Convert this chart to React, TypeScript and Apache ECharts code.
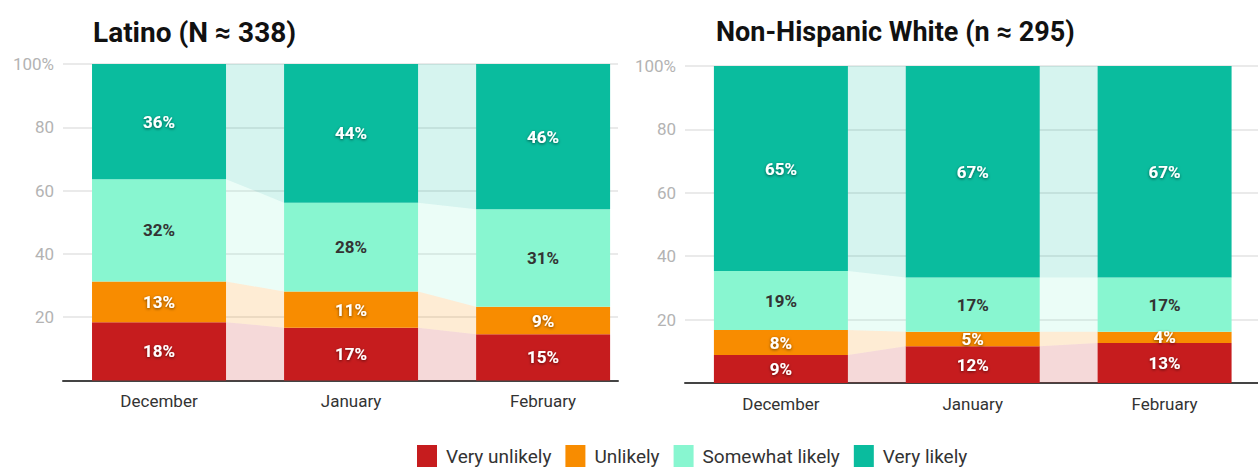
import React, { useEffect, useRef } from "react";
import * as echarts from "echarts";

const months = ["December", "January", "February"];
const segmentNames = ["Very unlikely", "Unlikely", "Somewhat likely", "Very likely"];
const segmentColors = ["#c61c1e", "#f88c00", "#88f6d0", "#0abc9e"];

const latinoVeryUnlikely = [18.4, 16.7, 14.6];
const latinoUnlikely = [12.9, 11.4, 8.7];
const latinoSomewhat = [32.3, 28.1, 30.8];
const latinoVeryLikely = [36.4, 43.8, 45.9];

const whiteVeryUnlikely = [8.8, 11.6, 12.6];
const whiteUnlikely = [7.9, 4.6, 3.6];
const whiteSomewhat = [18.6, 17.1, 17.1];
const whiteVeryLikely = [64.7, 66.7, 66.7];

const yTicks = [0, 20, 40, 60, 80, 100];
const titles = ["Latino (N \u2248 338)", "Non-Hispanic White (n \u2248 295)"];

const FONT = "Roboto, 'Noto Sans', sans-serif";
const BAR_W = 134;

const panels = [
  [latinoVeryUnlikely, latinoUnlikely, latinoSomewhat, latinoVeryLikely],
  [whiteVeryUnlikely, whiteUnlikely, whiteSomewhat, whiteVeryLikely],
];

export default function App() {
  const ref = useRef<HTMLDivElement>(null);
  useEffect(() => {
    if (!ref.current) return;
    const chart = echarts.init(ref.current, null, { renderer: "svg" });
    const series: any[] = [];
    panels.forEach((panel, pi) => {
      const cum = (m: number, upto: number) => {
        let t = 0;
        for (let k = 0; k < upto; k++) t += panel[k][m];
        return t;
      };
      // connecting bands
      const bandData: number[][] = [];
      for (let i = 0; i < months.length - 1; i++) {
        for (let s = 0; s < panel.length; s++) bandData.push([i, s]);
      }
      series.push({
        type: "custom",
        name: "bands" + pi,
        xAxisIndex: pi,
        yAxisIndex: pi,
        z: 1,
        silent: true,
        data: bandData,
        renderItem: (params: any, api: any) => {
          const i = api.value(0);
          const s = api.value(1);
          const b0 = api.coord([i, cum(i, s)]);
          const t0 = api.coord([i, cum(i, s + 1)]);
          const b1 = api.coord([i + 1, cum(i + 1, s)]);
          const t1 = api.coord([i + 1, cum(i + 1, s + 1)]);
          const h = BAR_W / 2;
          return {
            type: "polygon",
            shape: {
              points: [
                [b0[0] + h, b0[1]],
                [t0[0] + h, t0[1]],
                [t1[0] - h, t1[1]],
                [b1[0] - h, b1[1]],
              ],
            },
            style: { fill: segmentColors[s], opacity: 0.17 },
          };
        },
      });
      panel.forEach((vals, s) => {
        const dark = s === 2;
        series.push({
          type: "custom",
          name: segmentNames[s],
          xAxisIndex: pi,
          yAxisIndex: pi,
          z: 2,
          itemStyle: { color: segmentColors[s] },
          data: vals.map((v, i) => [i, v]),
          renderItem: (params: any, api: any) => {
            const i = api.value(0);
            const v = api.value(1);
            const base = cum(i, s);
            const p0 = api.coord([i, base]);
            const p1 = api.coord([i, base + v]);
            const h = BAR_W / 2;
            return {
              type: "group",
              children: [
                {
                  type: "rect",
                  shape: { x: p0[0] - h, y: p1[1], width: BAR_W, height: p0[1] - p1[1] },
                  style: { fill: segmentColors[s] },
                },
                {
                  type: "text",
                  z2: 10,
                  style: {
                    text: Math.round(v) + "%",
                    x: p0[0],
                    y: (p0[1] + p1[1]) / 2,
                    align: "center",
                    verticalAlign: "middle",
                    font: "bold 17px " + FONT,
                    fill: dark ? "#333333" : "#ffffff",
                    textShadowColor: dark ? "rgba(0,0,0,0)" : "rgba(0,0,0,0.55)",
                    textShadowBlur: dark ? 0 : 3,
                    textShadowOffsetX: 0,
                    textShadowOffsetY: 1,
                  },
                },
              ],
            };
          },
        });
      });
    });

    const xAxisBase = (max: number) => ({
      type: "value",
      min: -0.5,
      max,
      interval: 0.5,
      splitLine: { show: false },
      axisTick: { show: false },
      axisLine: { show: true, lineStyle: { color: "#444", width: 2 } },
      axisLabel: {
        show: true,
        margin: 12,
        fontFamily: FONT,
        fontSize: 17,
        color: "#333",
        showMinLabel: false,
        showMaxLabel: false,
        formatter: (v: number) => (Number.isInteger(v) && v >= 0 && v < months.length ? months[v] : ""),
      },
    });
    const yAxisBase = () => ({
      type: "value",
      min: 0,
      max: 100,
      interval: 20,
      axisLine: { show: false },
      axisTick: { show: false },
      splitLine: { show: true, lineStyle: { color: "#e3e3e3", width: 1.5 } },
      axisLabel: {
        margin: 9,
        fontFamily: FONT,
        fontSize: 17,
        color: "#b3b3b3",
        formatter: (v: number) => (v === 0 ? "" : v === yTicks[yTicks.length - 1] ? v + "%" : String(v)),
      },
    });

    const titleStyle = { fontFamily: FONT, fontSize: 27, fontWeight: "bold", color: "#111" };
    chart.setOption({
      animation: false,
      backgroundColor: "#ffffff",
      title: [
        { text: titles[0], left: 93, top: 18, padding: 0, textStyle: { ...titleStyle, fontSize: 28 } },
        { text: titles[1], left: 716, top: 18, padding: 0, textStyle: titleStyle },
      ],
      grid: [
        { left: 63, top: 64, width: 555, height: 316.5 },
        { left: 685, top: 66, width: 573, height: 317 },
      ],
      xAxis: [
        { ...xAxisBase(2.39), gridIndex: 0 },
        { ...xAxisBase(2.487), gridIndex: 1 },
      ],
      yAxis: [
        { ...yAxisBase(), gridIndex: 0 },
        { ...yAxisBase(), gridIndex: 1 },
      ],
      legend: {
        data: segmentNames,
        left: 417,
        top: 445,
        padding: 0,
        icon: "rect",
        itemWidth: 20,
        itemHeight: 22,
        itemGap: 14,
        selectedMode: false,
        textStyle: { fontFamily: FONT, fontSize: 19, lineHeight: 20, color: "#333", padding: [0, 0, 0, 4] },
      },
      series,
    });
    return () => chart.dispose();
  }, []);
  return (
    <div
      ref={ref}
      style={{ position: "fixed", left: 0, top: 0, width: 1258, height: 468, background: "#fff" }}
    />
  );
}
